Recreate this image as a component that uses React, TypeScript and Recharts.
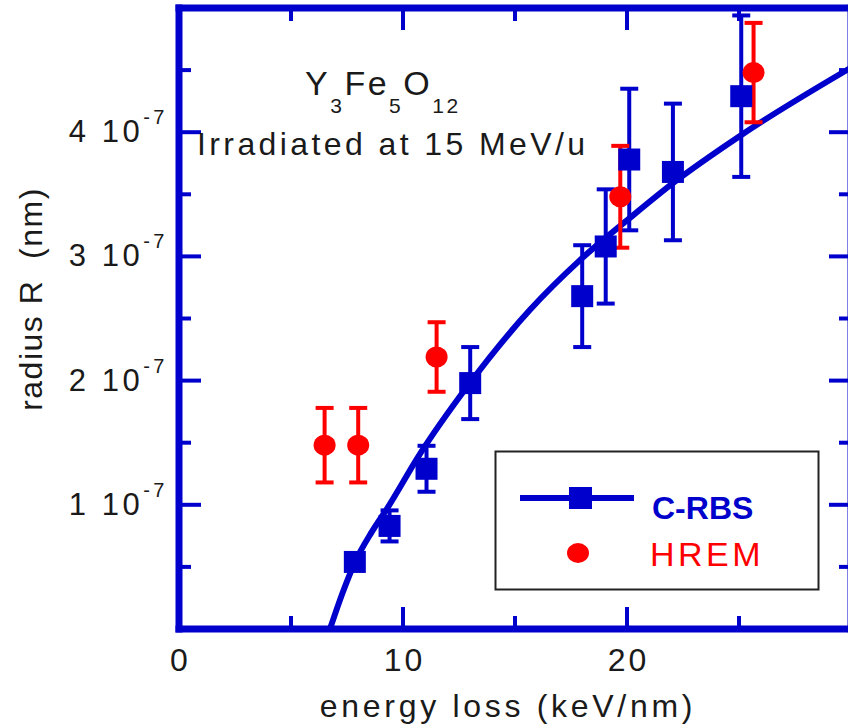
import React from 'react';
import {
    ComposedChart,
    Line,
    Scatter,
    ErrorBar,
    XAxis,
    YAxis,
    Legend,
} from 'recharts';

// energy loss (keV/nm)
const rbsX = [7.85, 9.4, 11.05, 13.0, 18.0, 19.05, 20.1, 22.05, 25.1];
// radius in units of 1e-7
const rbsR = [0.54, 0.83, 1.29, 1.98, 2.68, 3.08, 3.78, 3.68, 4.29];
const rbsErr = [0.03, 0.125, 0.185, 0.29, 0.41, 0.46, 0.57, 0.55, 0.65];

const hremX = [6.5, 8.0, 11.5, 19.7, 25.65];
const hremR = [1.48, 1.48, 2.19, 3.48, 4.48];
const hremErr = [0.3, 0.3, 0.28, 0.41, 0.4];

const fitX = [6.74, 7.3, 7.86, 8.6, 9.29, 10.76, 12.86, 15.67, 17.9, 20.13, 22.05, 25.04, 30.0];
const fitR = [0, 0.29, 0.54, 0.78, 0.97, 1.41, 1.95, 2.57, 2.97, 3.31, 3.59, 3.97, 4.52];

const xTicks = [0, 5, 10, 15, 20, 25, 30];
const xLabels = [0, 10, 20];
const yTicks = [0.5, 1, 1.5, 2, 2.5, 3, 3.5, 4, 4.5];
const yLabels = [1, 2, 3, 4];

const BLUE = '#0000CC';
const RED = '#FF0000';
const INK = '#1a1a1a';
const FONT = '"Liberation Sans", Arial, Helvetica, sans-serif';

const rbsData = rbsX.map((x, i) => ({ x, y: rbsR[i], err: rbsErr[i] }));
const hremData = hremX.map((x, i) => ({ x, y: hremR[i], err: hremErr[i] }));
const fitData = fitX.map((x, i) => ({ x, y: fitR[i] }));

const axisLine = { stroke: BLUE, strokeWidth: 7, strokeLinecap: 'square' as const };

const BottomTick = (props: any) => {
    const { x, y, payload } = props;
    const major = xLabels.includes(payload.value);
    return (
        <g>
            <line x1={x} y1={y} x2={x} y2={y - (major ? 22 : 13)} stroke={BLUE} strokeWidth={4} />
            {major && (
                <text x={x + 1.5} y={y + 42} textAnchor="middle" fontSize={32} letterSpacing={3}
                    fontFamily={FONT} fill={INK}>
                    {payload.value}
                </text>
            )}
        </g>
    );
};

const TopTick = (props: any) => {
    const { x, y, payload } = props;
    const major = xLabels.includes(payload.value);
    return <line x1={x} y1={y} x2={x} y2={y + (major ? 22 : 13)} stroke={BLUE} strokeWidth={4} />;
};

const LeftTick = (props: any) => {
    const { x, y, payload } = props;
    const major = yLabels.includes(payload.value);
    return (
        <g>
            <line x1={x} y1={y} x2={x + (major ? 22 : 12)} y2={y} stroke={BLUE} strokeWidth={4} />
            {major && (
                <text x={x - 11} y={y + 10} textAnchor="end" fontSize={31} letterSpacing={3.5}
                    fontFamily={FONT} fill={INK}>
                    <tspan>{`${payload.value} 10`}</tspan>
                    <tspan dy={-18} fontSize={20}>-7</tspan>
                </text>
            )}
        </g>
    );
};

const RightTick = (props: any) => {
    const { x, y, payload } = props;
    const major = yLabels.includes(payload.value);
    return <line x1={x} y1={y} x2={x - (major ? 22 : 12)} y2={y} stroke={BLUE} strokeWidth={4} />;
};

const Square = (props: any) => {
    const { cx, cy } = props;
    return <rect x={cx - 11} y={cy - 11} width={22} height={22} fill={BLUE} />;
};

const Dot = (props: any) => {
    const { cx, cy } = props;
    return <ellipse cx={cx} cy={cy} rx={11} ry={10.5} fill={RED} />;
};

const LegendBox = () => (
    <svg width={327} height={142} style={{ display: 'block' }}>
        <rect x={1.5} y={1.5} width={323} height={138} fill="#fff" stroke="#222" strokeWidth={2} />
        <line x1={26} y1={48} x2={140} y2={48} stroke={BLUE} strokeWidth={6} />
        <rect x={75} y={37} width={23} height={22} fill={BLUE} />
        <text x={158} y={69} fontSize={32} fontWeight="bold" fontFamily={FONT} fill={BLUE}>C-RBS</text>
        <ellipse cx={84} cy={103} rx={11} ry={10} fill={RED} />
        <text x={156} y={116} fontSize={34} letterSpacing={3.5} fontFamily={FONT} fill={RED}>HREM</text>
    </svg>
);

export default function App() {
    return (
        <div style={{ position: 'absolute', left: 0, top: 0, width: 848, height: 728, overflow: 'hidden', background: '#fff' }}>
            <ComposedChart width={860} height={728} margin={{ top: 7, right: 8, bottom: 0, left: 0 }}>
                <XAxis type="number" dataKey="x" domain={[0, 30]} ticks={xTicks} interval={0}
                    allowDataOverflow height={99} axisLine={axisLine} tickLine={false}
                    tickSize={0} tickMargin={0} tick={<BottomTick />}
                    label={{
                        value: 'energy loss (keV/nm)', position: 'insideBottom', offset: 11, dx: -7,
                        style: { fontSize: 32, letterSpacing: 3.7, fontFamily: FONT, fill: INK },
                    }} />
                <XAxis xAxisId="top" orientation="top" type="number" dataKey="x" domain={[0, 30]}
                    ticks={xTicks} interval={0} allowDataOverflow height={1} axisLine={axisLine}
                    tickLine={false} tickSize={0} tickMargin={0} tick={<TopTick />} />
                <YAxis type="number" dataKey="y" domain={[0, 5]} ticks={yTicks} interval={0}
                    allowDataOverflow width={179} axisLine={axisLine} tickLine={false}
                    tickSize={0} tickMargin={0} tick={<LeftTick />} />
                <YAxis yAxisId="right" orientation="right" type="number" domain={[0, 5]} ticks={yTicks}
                    interval={0} allowDataOverflow width={1} axisLine={axisLine} tickLine={false}
                    tickSize={0} tickMargin={0} tick={<RightTick />} />
                <Line data={fitData} dataKey="y" type="monotone" stroke={BLUE} strokeWidth={6}
                    dot={false} isAnimationActive={false} legendType="none" />
                <Scatter name="C-RBS" data={rbsData} fill={BLUE} shape={<Square />} isAnimationActive={false}>
                    <ErrorBar dataKey="err" direction="y" width={9} strokeWidth={4} stroke={BLUE} />
                </Scatter>
                <Scatter name="HREM" data={hremData} fill={RED} shape={<Dot />} isAnimationActive={false}>
                    <ErrorBar dataKey="err" direction="y" width={9} strokeWidth={4} stroke={RED} />
                </Scatter>
                <Legend layout="vertical" align="center" verticalAlign="middle" content={<LegendBox />}
                    wrapperStyle={{ left: 494, top: 450, width: 327, height: 142 }} />
            </ComposedChart>
            <svg width={848} height={728} style={{ position: 'absolute', left: 0, top: 0, pointerEvents: 'none' }}>
                <text x={305} y={95} fontSize={34} letterSpacing={2.5} fontFamily={FONT} fill={INK}>
                    <tspan>Y</tspan>
                    <tspan dy={18} fontSize={21}>3</tspan>
                    <tspan dy={-18}>Fe</tspan>
                    <tspan dy={18} fontSize={21}>5</tspan>
                    <tspan dy={-18}>O</tspan>
                    <tspan dy={18} fontSize={21}>12</tspan>
                </text>
                <text x={197} y={155} fontSize={32} letterSpacing={3.4} fontFamily={FONT} fill={INK}>
                    Irradiated at 15 MeV/u
                </text>
                <text x={42} y={299} transform="rotate(-90 42 299)" textAnchor="middle" fontSize={32}
                    letterSpacing={1.5} fontFamily={FONT} fill={INK} style={{ whiteSpace: 'pre' }}>
                    radius R  (nm)
                </text>
            </svg>
        </div>
    );
}
